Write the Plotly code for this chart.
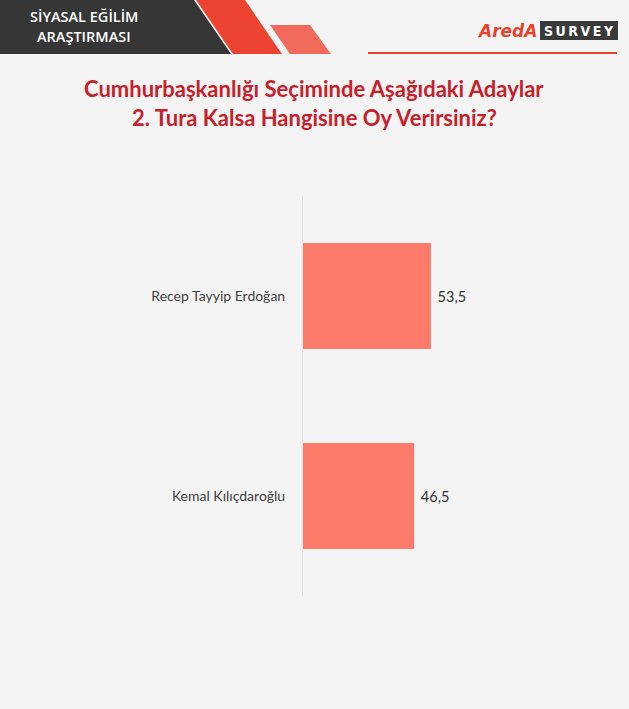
import plotly.graph_objects as go

candidates = ["Recep Tayyip Erdoğan", "Kemal Kılıçdaroğlu"]
vote_share = [53.5, 46.5]

header_line1 = "SİYASAL EĞİLİM"
header_line2 = "ARAŞTIRMASI"
title_line1 = "Cumhurbaşkanlığı Seçiminde Aşağıdaki Adaylar"
title_line2 = "2. Tura Kalsa Hangisine Oy Verirsiniz?"

W, H = 629, 709
ML, MR, MT, MB = 303, 87, 196, 113
PW, PH = W - ML - MR, H - MT - MB


def px(x):
    return (x - ML) / PW


def py(y):
    return (H - MB - y) / PH


def poly(points):
    return "M " + " L ".join(f"{px(x):.5f},{py(y):.5f}" for x, y in points) + " Z"


BG = "#f4f4f4"
BAR = "#fd7b6b"

fig = go.Figure(
    go.Bar(
        x=vote_share,
        y=candidates,
        orientation="h",
        marker=dict(color=BAR, line=dict(width=0)),
        texttemplate=" %{x:.1f}",
        textposition="outside",
        cliponaxis=False,
        textfont=dict(family="Lato", size=14.5, color="#333333"),
        hoverinfo="skip",
    )
)

shapes = [
    dict(type="path", path=poly([(0, 0), (194, 0), (231, 54), (0, 54)]),
         xref="paper", yref="paper", fillcolor="#363636", line=dict(width=0), layer="below"),
    dict(type="path", path=poly([(196, 0), (245, 0), (282, 54), (233, 54)]),
         xref="paper", yref="paper", fillcolor="#ec4430", line=dict(width=0), layer="below"),
    dict(type="path", path=poly([(270, 25), (310, 25), (331, 54), (290, 54)]),
         xref="paper", yref="paper", fillcolor="#f26a5c", line=dict(width=0), layer="below"),
    dict(type="line", x0=px(368), x1=px(617), y0=py(53), y1=py(53),
         xref="paper", yref="paper", line=dict(color="#e8412c", width=2)),
    dict(type="rect", x0=px(540), x1=px(618), y0=py(21), y1=py(40),
         xref="paper", yref="paper", fillcolor="#3a3a3a", line=dict(width=0)),
]

TS = "\u2009"
annotations = [
    dict(text=header_line1, x=px(84), y=py(16), xref="paper", yref="paper",
         showarrow=False, xanchor="center", yanchor="middle",
         font=dict(family="Open Sans", size=14.5, color="#ffffff", weight=600)),
    dict(text=header_line2, x=px(84), y=py(36), xref="paper", yref="paper",
         showarrow=False, xanchor="center", yanchor="middle",
         font=dict(family="Open Sans", size=14.5, color="#ffffff", weight=600)),
    dict(text="<i>AredA</i>", x=px(539), y=py(31), xref="paper", yref="paper",
         showarrow=False, xanchor="right", yanchor="middle",
         font=dict(family="DejaVu Sans", size=17, color="#e8412c", weight="bold")),
    dict(text=TS.join("SURVEY"), x=px(579), y=py(31), xref="paper", yref="paper",
         showarrow=False, xanchor="center", yanchor="middle",
         font=dict(family="DejaVu Sans Condensed", size=14, color="#ffffff", weight="bold")),
    dict(text=title_line1, x=px(314), y=py(89), xref="paper", yref="paper",
         showarrow=False, xanchor="center", yanchor="middle",
         font=dict(family="Lato", size=22, color="#c8202a", weight="bold")),
    dict(text=title_line2, x=px(314), y=py(118), xref="paper", yref="paper",
         showarrow=False, xanchor="center", yanchor="middle",
         font=dict(family="Lato", size=22, color="#c8202a", weight="bold")),
]

fig.update_layout(
    width=W,
    height=H,
    margin=dict(l=ML, r=MR, t=MT, b=MB, pad=0),
    paper_bgcolor=BG,
    plot_bgcolor=BG,
    separators=",.",
    showlegend=False,
    bargap=0.47,
    shapes=shapes,
    annotations=annotations,
    xaxis=dict(range=[0, 100], visible=False, fixedrange=True),
    yaxis=dict(
        autorange="reversed",
        showgrid=False,
        zeroline=False,
        showline=True,
        linecolor="#e4e4e4",
        linewidth=1,
        ticks="",
        ticklabelstandoff=14,
        tickfont=dict(family="Lato", size=14, color="#404040"),
        fixedrange=True,
    ),
)

fig.write_html(
    "out.html",
    config={"displayModeBar": False},
    post_script="document.body.style.margin='0';document.body.style.background='#f4f4f4';",
)
